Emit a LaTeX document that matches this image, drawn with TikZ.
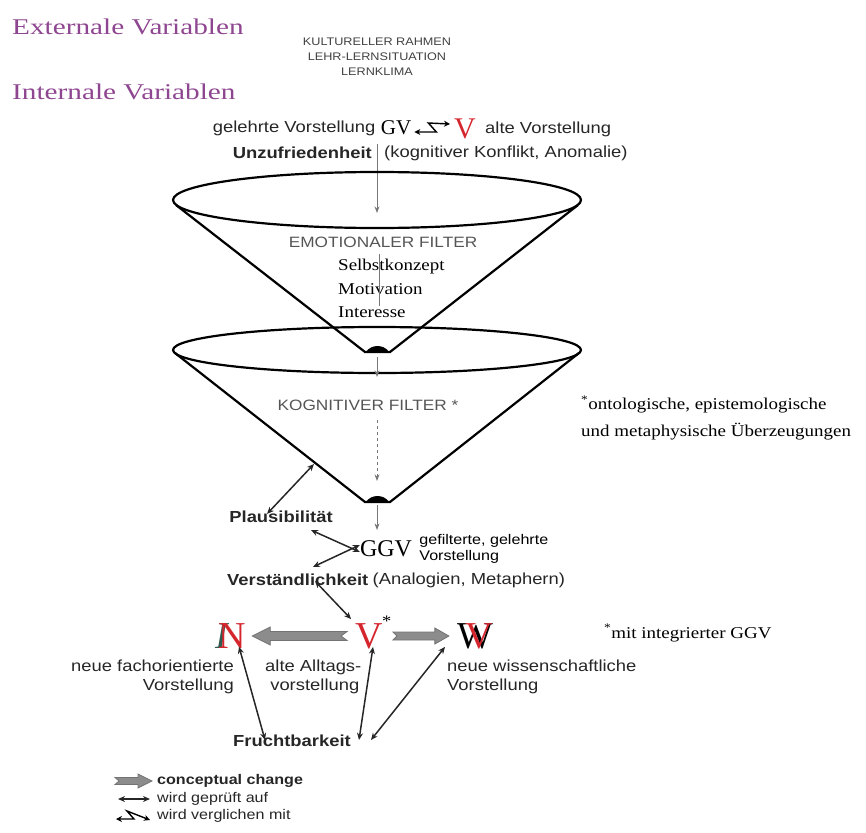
\documentclass[tikz,border=0pt]{standalone}
\usepackage{fontspec}
\setmainfont[FakeStretch=1.15]{Liberation Serif}
\setsansfont[FakeStretch=1.15]{Liberation Sans}
\newfontfamily\headserif[FakeStretch=1.3]{Liberation Serif}
\newfontfamily\letterfont{Liberation Serif}
\usetikzlibrary{arrows.meta,positioning,calc}
\definecolor{VarPurple}{HTML}{8E4690}
\definecolor{VRed}{HTML}{D5262E}
\definecolor{FilterGray}{HTML}{555555}
\definecolor{ChangeGray}{HTML}{8C8C8C}
\definecolor{SlashTeal}{HTML}{2F5A50}
\newcommand\fsz[2]{\fontsize{#1}{#2}\selectfont}

\begin{document}
\begin{tikzpicture}[x=1pt,y=-1pt,>=Stealth,
  txt/.style={inner sep=0pt,font=\sffamily\fsz{16}{19},text=black!85},
  txtb/.style={inner sep=0pt,font=\sffamily\bfseries\fsz{16}{19},text=black!85},
  caps/.style={inner sep=0pt,font=\sffamily\fsz{15}{18},text=FilterGray},
  var/.style={inner sep=0pt,anchor=west,font=\headserif\fsz{22.5}{22.5},text=VarPurple},
  letter/.style={inner sep=0pt,font=\letterfont\fsz{38}{38}},
  cone/.style={line width=2.2pt},
  flow/.style={->,FilterGray!80,line width=0.8pt},
  check/.style={{Stealth[length=7pt,width=6pt]}-{Stealth[length=7pt,width=6pt]},line width=1.5pt,black!85},
  change/.style={fill=ChangeGray,draw=black!55,line width=0.8pt,line join=miter},
]
\useasboundingbox (0,0) rectangle (866,832);

% variables and frame
\node[var] (ext) at (12,27) {Externale Variablen};
\node[var] (int) at (12,92) {Internale Variablen};
\node[inner sep=0pt,align=center,font=\sffamily\fsz{11}{15},text=black!75] (frame) at (377,57)
  {KULTURELLER RAHMEN\\LEHR-LERNSITUATION\\LERNKLIMA};

% GV <-> V
\node[inner sep=0pt,font=\letterfont\fsz{21}{21}] (gv) at (396,128) {GV};
\node[txt,left=5pt of gv] (gvlbl) {gelehrte Vorstellung};
\node[inner sep=0pt,font=\letterfont\fsz{30}{30},text=VRed] (vold) at (465,129) {V};
\node[txt,right=9pt of vold] (voldlbl) {alte Vorstellung};
\draw[line width=1.4pt,{Stealth[length=6pt,width=6pt]}-{Stealth[length=6pt,width=6pt]}]
  ($(gv.east)+(3,4)$) -- ++(22,0) -- ++(-8,-9) -- ($(vold.west)+(-4,-5)$);

\node[txtb,anchor=east] (unz) at (372,153) {Unzufriedenheit};
\node[txt,right=12pt of unz] (konflikt) {(kognitiver Konflikt, Anomalie)};

% emotional filter
\coordinate (in1) at (377,144);
\coordinate (out1) at (377,213);
\draw[flow] (in1) -- (out1);
\draw[cone] (377,200) ellipse [x radius=204, y radius=28];
\draw[cone] (176,205) -- (365,352) -- (390,352) -- (578,205);
\fill (366,352) .. controls (371,344) and (384,344) .. (389,352) -- cycle;
\node[caps] (emo) at (383,242) {EMOTIONALER FILTER};
\node[inner sep=0pt,anchor=north west,align=left,font=\fsz{16.5}{23.5}] (emolist) at (338,259)
  {Selbstkonzept\\Motivation\\Interesse};
\coordinate (e1) at (379,254);
\coordinate (e2) at (379,306);
\draw[FilterGray!80,line width=0.6pt] (e1) -- (e2);

% cognitive filter
\draw[cone] (377,350) ellipse [x radius=204, y radius=23];
\draw[cone] (175,353) -- (365,502) -- (390,502) -- (579,353);
\fill (366,502) .. controls (371,494) and (384,494) .. (389,502) -- cycle;
\coordinate (a1) at (377,357);
\coordinate (a2) at (377,377);
\draw[flow] (a1) -- (a2);
\node[caps] (kog) at (368,405) {KOGNITIVER FILTER *};
\coordinate (k1) at (377,420);
\coordinate (k2) at (377,481);
\draw[flow,dashed] (k1) -- (k2);
\coordinate (a3) at (377,505);
\coordinate (a4) at (377,530);
\draw[flow] (a3) -- (a4);
\node[inner sep=0pt,anchor=west,align=left,font=\fsz{16.5}{27}] (note) at (581,418)
  {\textsuperscript{*}ontologische, epistemologische\\und metaphysische Überzeugungen};

% plausibility and comprehensibility
\coordinate (cone2) at (314,464);
\node[txtb] (plaus) at (281,517) {Plausibilität};
\node[inner sep=0pt,font=\letterfont\fsz{24}{24}] (ggv) at (386,549) {GGV};
\node[inner sep=0pt,anchor=west,align=left,font=\sffamily\fsz{14}{16}] (ggvlbl) at ([xshift=7pt]ggv.east)
  {gefilterte, gelehrte\\Vorstellung};
\node[txtb,anchor=west] (verst) at (227,580) {Verständlichkeit};
\node[txt,right=4pt of verst] (analog) {(Analogien, Metaphern)};
\draw[check] (cone2) -- ([xshift=-14pt,yshift=-3pt]plaus.north);
\draw[check] ([xshift=30pt,yshift=-7pt]plaus.south) -- ([yshift=-3pt]ggv.west);
\draw[check] ([xshift=86pt,yshift=7pt]verst.north west) -- ([yshift=4pt]ggv.west);

% conceptual change
\node[letter,text=VRed] (vnew) at (369,636) {V};
\node[inner sep=0pt,anchor=south west,font=\fsz{16}{16}] (star) at ([xshift=-1pt,yshift=-4pt]vnew.north east) {*};
\node[letter] (nfach) at (231,636) {\textcolor{SlashTeal}{\itshape I}\kern-10pt\textcolor{VRed}{N}};
\node[letter] (wsci) at (475,636) {W\llap{\textcolor{VRed}{V}}};
\draw[check] ([xshift=88pt,yshift=5pt]verst.south west) -- ([xshift=-4pt,yshift=4pt]vnew.north west);

\draw[change] let \p1=($(vnew.west)+(-8,0)$), \p2=($(nfach.east)+(6,0)$) in
  (\p2) -- ++(18pt,9pt) -- ++(0,-4.5pt) -- (\x1,\y2+4.5pt) -- ++(-6pt,-4.5pt) -- ++(6pt,-4.5pt)
  -- (\x2+18pt,\y2-4.5pt) -- ++(0,-4.5pt) -- cycle;
\draw[change] let \p1=($(vnew.east)+(10,0)$), \p2=($(wsci.west)+(-8,0)$) in
  (\p2) -- ++(-14pt,8pt) -- ++(0,-4pt) -- (\x1,\y2+4pt) -- ++(4pt,-4pt) -- ++(-4pt,-4pt)
  -- (\x2-14pt,\y2-4pt) -- ++(0,-4pt) -- cycle;

\node[txt,anchor=north east,align=right] (nfachlbl) at (234,660) {neue fachorientierte\\Vorstellung};
\node[txt,anchor=north west,align=left] (vnewlbl) at (265,660) {alte Alltags-\\\ vorstellung};
\node[txt,anchor=north west,align=left] (wscilbl) at (447,660) {neue wissenschaftliche\\Vorstellung};
\node[inner sep=0pt,anchor=west,font=\fsz{16.5}{16.5}] (starlbl) at (604,633)
  {\textsuperscript{*}mit integrierter GGV};

\node[txtb,anchor=west] (frucht) at (233,741) {Fruchtbarkeit};
\draw[check] ([xshift=8pt,yshift=2pt]nfach.south) -- ([xshift=32pt,yshift=-5pt]frucht.north west);
\draw[check] ([xshift=4pt,yshift=2pt]vnew.south) -- ([xshift=126pt,yshift=-5pt]frucht.north west);
\draw[check] ([xshift=-30pt,yshift=2pt]wsci.south) -- ([xshift=138pt,yshift=-5pt]frucht.north west);

% legend
\node[txtb,anchor=west,font=\sffamily\bfseries\fsz{14}{14}] (lgchange) at (157,781) {conceptual change};
\node[txt,anchor=west,font=\sffamily\fsz{14}{14}] (lgcheck) at (157,799) {wird geprüft auf};
\node[txt,anchor=west,font=\sffamily\fsz{14}{14}] (lgcomp) at (157,816) {wird verglichen mit};
\draw[change] let \p1=($(lgchange.west)+(-42,0)$), \p2=($(lgchange.west)+(-5,0)$) in
  (\p2) -- ++(-14pt,7pt) -- ++(0,-3.5pt) -- (\x1,\y2+3.5pt) -- ++(4pt,-3.5pt) -- ++(-4pt,-3.5pt)
  -- (\x2-14pt,\y2-3.5pt) -- ++(0,-3.5pt) -- cycle;
\coordinate (lc1) at (118,799);
\draw[check] (lc1) -- ([xshift=-7pt]lgcheck.west);
\coordinate (lz1) at (116,819);
\draw[line width=1.4pt,{Stealth[length=6pt,width=6pt]}-{Stealth[length=6pt,width=6pt]}]
  (lz1) -- ++(18,0) -- ++(-7,-8) -- ([xshift=-7pt,yshift=-4pt]lgcomp.west);
\end{tikzpicture}
\end{document}
